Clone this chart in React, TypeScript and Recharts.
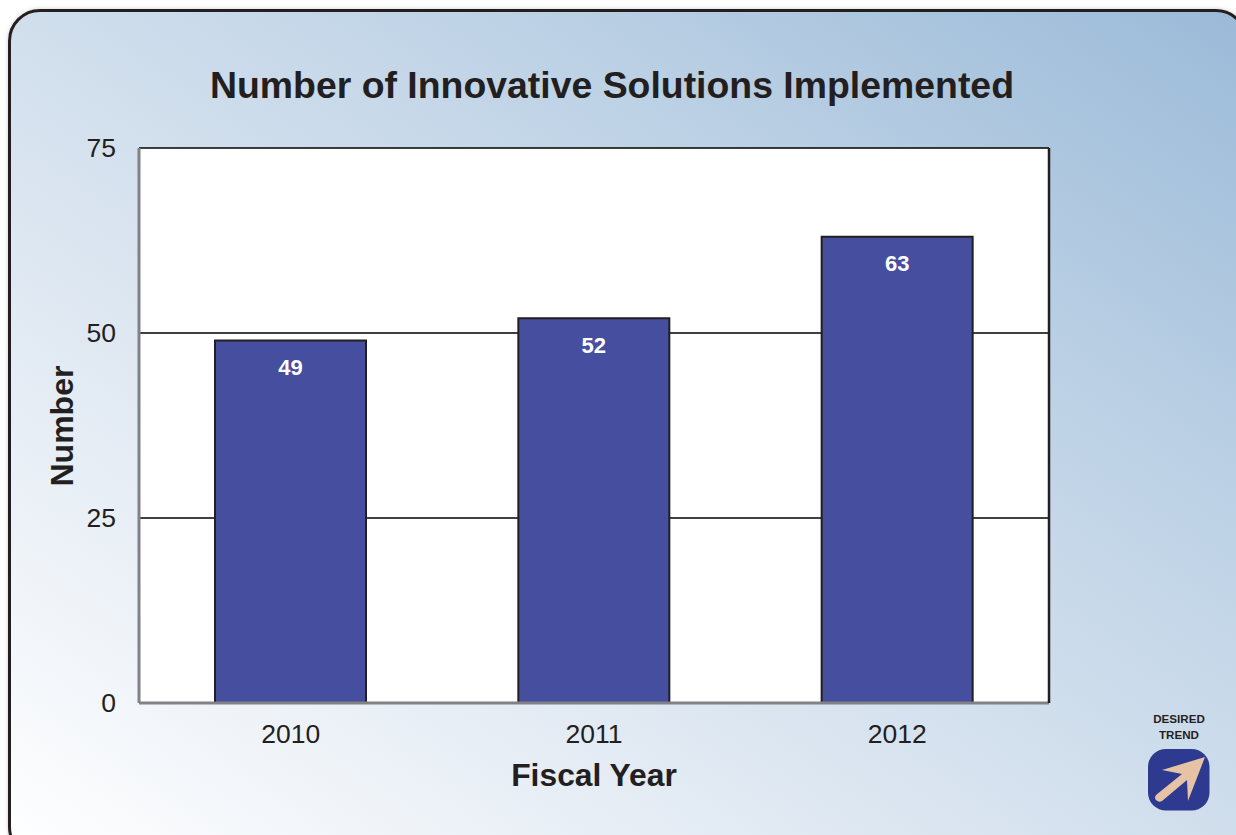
import React from 'react';
import { BarChart, Bar, XAxis, YAxis, CartesianGrid, LabelList } from 'recharts';

const years = ['2010', '2011', '2012'];
const solutions = [49, 52, 63];
const yTicks = [0, 25, 50, 75];

const data = years.map((year, i) => ({ year, solutions: solutions[i] }));

const font = '"Liberation Sans", Arial, sans-serif';
const ink = '#231f20';

function TrendBadge() {
  return (
    <svg width={80} height={110} style={{ position: 'absolute', left: 1139, top: 708 }}>
      <text x={40} y={15} textAnchor="middle" fontFamily={font} fontWeight="bold" fontSize={11.6} fill={ink}>DESIRED</text>
      <text x={40} y={31} textAnchor="middle" fontFamily={font} fontWeight="bold" fontSize={11.6} fill={ink}>TREND</text>
      <rect x={9} y={41} width={61.5} height={61.5} rx={18} fill="#2e3a8f" />
      <path
        d="M66 49 L23 62 L43 66 L17 87 Q15 90 17 92 Q20 95 23 93 L48 72 L49 93 Z"
        fill="#e6c3a5"
      />
    </svg>
  );
}

export default function App() {
  return (
    <div style={{ position: 'absolute', left: 0, top: 0, width: 1236, height: 835, overflow: 'hidden', background: '#fff' }}>
      <div
        style={{
          position: 'absolute',
          left: 8,
          top: 9,
          width: 1240,
          height: 850,
          boxSizing: 'border-box',
          border: `3px solid ${ink}`,
          borderRadius: 32,
          background: 'linear-gradient(to top right, #ffffff 0%, #dfe8f2 35%, #bfd3e6 68%, #9bbad8 100%)',
          boxShadow: '0 0 4px rgba(0,0,0,0.2)',
        }}
      />
      <div
        style={{
          position: 'absolute',
          left: 0,
          top: 61,
          width: 1224,
          textAlign: 'center',
          fontFamily: font,
          fontWeight: 'bold',
          fontSize: 37.4,
          lineHeight: '48px',
          color: ink,
        }}
      >
        Number of Innovative Solutions Implemented
      </div>
      <div style={{ position: 'absolute', left: 0, top: 0 }}>
        <BarChart
          width={1236}
          height={835}
          data={data}
          barSize={151}
          margin={{ top: 148, right: 186, bottom: 92, left: 79 }}
          style={{ fontFamily: font }}
        >
          <CartesianGrid vertical={false} fill="#ffffff" stroke="#000000" strokeWidth={1.5} />
          <XAxis
            dataKey="year"
            height={40}
            tickLine={false}
            axisLine={{ stroke: '#808285', strokeWidth: 3 }}
            tick={{ fill: ink, fontSize: 26.5 }}
            tickMargin={15}
            label={{ value: 'Fiscal Year', position: 'insideBottom', offset: -43, fill: ink, fontSize: 31.8, fontWeight: 'bold' }}
          />
          <YAxis
            domain={[0, 75]}
            ticks={yTicks}
            width={60}
            tickLine={false}
            axisLine={{ stroke: '#808285', strokeWidth: 3 }}
            tick={{ fill: ink, fontSize: 26.5 }}
            tickMargin={17}
            label={{ value: 'Number', angle: -90, position: 'insideLeft', offset: -17, fill: ink, fontSize: 32, fontWeight: 'bold', dy: 61 }}
          />
          <YAxis
            yAxisId="right"
            orientation="right"
            domain={[0, 75]}
            ticks={yTicks}
            width={1}
            tick={false}
            tickLine={false}
            axisLine={{ stroke: ink, strokeWidth: 2.5 }}
          />
          <Bar
            dataKey="solutions"
            fill="#464e9f"
            stroke={ink}
            strokeWidth={2}
            isAnimationActive={false}
          >
            <LabelList dataKey="solutions" position="insideTop" offset={19} fill="#ffffff" fontSize={22} fontWeight="bold" />
          </Bar>
        </BarChart>
      </div>
      <TrendBadge />
    </div>
  );
}
